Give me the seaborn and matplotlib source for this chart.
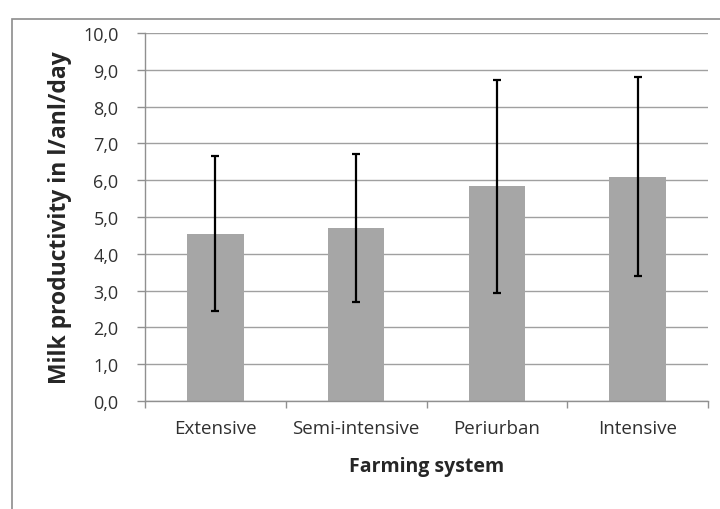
import numpy as np
import pandas as pd
import matplotlib
matplotlib.use("Agg")
import matplotlib.pyplot as plt
import matplotlib.patches as mpatches
from matplotlib.ticker import FixedLocator, FuncFormatter
import seaborn as sns

systems = ["Extensive", "Semi-intensive", "Periurban", "Intensive"]
means = [4.55, 4.70, 5.83, 6.10]
sds = [2.10, 2.00, 2.90, 2.70]

df = pd.DataFrame({"system": systems, "milk": means, "sd": sds})

sns.set_style("white")
plt.rcParams["font.family"] = ["Open Sans", "DejaVu Sans"]

fig = plt.figure(figsize=(7.2, 5.1), dpi=100)
ax = fig.add_axes([145 / 720, 108 / 510, 563 / 720, 368 / 510])

# outer chart frame (cut off on right/bottom like the screenshot)
fig.patches.append(mpatches.Rectangle((12 / 720, -0.1), 1.2, (502 - 12) / 510 + 0.1,
                                      transform=fig.transFigure, fill=False,
                                      edgecolor="#8c8c8c", linewidth=1.2, zorder=0))

sns.barplot(data=df, x="system", y="milk", color="#a6a6a6", saturation=1,
            width=0.4, errorbar=None, ax=ax, zorder=2, edgecolor="none")
ax.errorbar(np.arange(len(systems)), df["milk"], yerr=df["sd"], fmt="none",
            ecolor="black", elinewidth=1.6, capsize=2.8, capthick=1.6, zorder=3)

ax.set_xlim(-0.5, len(systems) - 0.5)
ax.set_ylim(0, 10)
ax.set_yticks(np.arange(0, 10.1, 1.0))
ax.yaxis.set_major_formatter(FuncFormatter(lambda v, p: f"{v:.1f}".replace(".", ",")))
ax.yaxis.grid(True, color="#a0a0a0", linewidth=1.0)
ax.set_axisbelow(True)

ax.xaxis.set_minor_locator(FixedLocator(np.arange(-0.5, len(systems), 1.0)))
ax.tick_params(axis="x", which="major", length=0, pad=13, labelsize=13.5, labelcolor="#303030")
ax.tick_params(axis="x", which="minor", length=5, width=1, color="#909090", bottom=True)
ax.tick_params(axis="y", which="major", length=6, width=1, color="#909090", left=True,
               pad=13, labelsize=13, labelcolor="#303030")

for side in ["top", "right"]:
    ax.spines[side].set_visible(False)
for side in ["left", "bottom"]:
    ax.spines[side].set_color("#909090")
    ax.spines[side].set_linewidth(1.0)

ax.set_xlabel("Farming system", fontsize=14, fontweight="bold", labelpad=14)
ax.set_ylabel("Milk productivity in l/anl/day", fontsize=16.5, fontweight="bold", labelpad=8)

fig.savefig("out.png", dpi=100)
